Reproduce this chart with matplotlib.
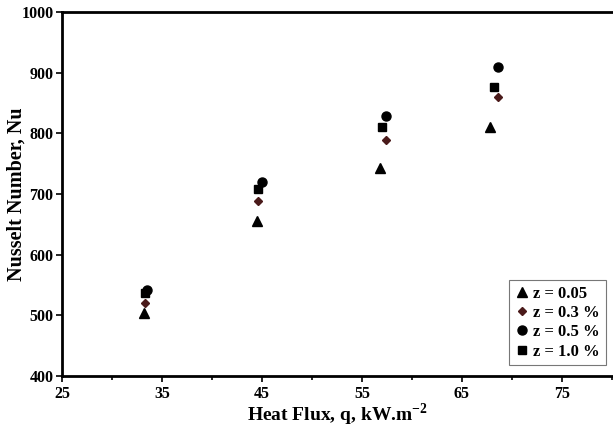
import matplotlib
matplotlib.use("Agg")
import matplotlib.pyplot as plt
from matplotlib.ticker import MultipleLocator

plt.rcParams["font.family"] = ["Liberation Serif", "DejaVu Serif"]
plt.rcParams["font.weight"] = "bold"
plt.rcParams["mathtext.fontset"] = "custom"
plt.rcParams["mathtext.rm"] = "Liberation Serif:bold"

# ---- data ----
q_z005 = [33.2, 44.5, 56.8, 67.8]
nu_z005 = [504, 655, 743, 811]

q_z03 = [33.3, 44.6, 57.4, 68.6]
nu_z03 = [521, 688, 789, 860]

q_z05 = [33.5, 45.0, 57.4, 68.6]
nu_z05 = [542, 720, 829, 909]

q_z10 = [33.3, 44.6, 57.0, 68.2]
nu_z10 = [537, 708, 811, 877]

x_ticks = [25, 35, 45, 55, 65, 75]
y_ticks = [400, 500, 600, 700, 800, 900, 1000]

fig = plt.figure(figsize=(6.13, 4.28), dpi=100)
ax = fig.add_axes([0.101, 0.1215, 0.899, 0.8505])

ax.plot(q_z005, nu_z005, ls="none", marker="^", ms=7, color="black", label="z = 0.05")
ax.plot(q_z03, nu_z03, ls="none", marker="D", ms=4.5, color="#4a1a1a", label="z = 0.3 %")
ax.plot(q_z05, nu_z05, ls="none", marker="o", ms=6.5, color="black", label="z = 0.5 %")
ax.plot(q_z10, nu_z10, ls="none", marker="s", ms=6, color="black", label="z = 1.0 %")

ax.set_xlim(25, 80.1)
ax.set_ylim(400, 1000)
ax.set_xticks(x_ticks)
ax.set_yticks(y_ticks)
ax.xaxis.set_minor_locator(MultipleLocator(5))

for s in ["left", "bottom", "top"]:
    ax.spines[s].set_linewidth(2)
ax.spines["right"].set_visible(False)
ax.tick_params(axis="both", which="both", direction="out", length=4, width=1.2, labelsize=11.5)
ax.tick_params(axis="x", which="minor", length=3)
ax.tick_params(axis="y", pad=2)
ax.tick_params(axis="x", pad=3)

ax.set_ylabel("Nusselt Number, Nu", fontsize=14.5, fontweight="bold")
ax.yaxis.set_label_coords(-0.064, 0.5)
ax.set_xlabel(r"Heat Flux, q, kW.m$^{-2}$", fontsize=14, fontweight="bold", labelpad=0)

leg = ax.legend(loc="lower right", bbox_to_anchor=(0.993, 0.02), fontsize=12,
                frameon=True, fancybox=False, handlelength=0.8, handletextpad=0.3,
                borderpad=0.35, labelspacing=0.2, borderaxespad=0.2)
leg.get_frame().set_edgecolor("#555555")
leg.get_frame().set_linewidth(0.8)

fig.savefig("out.png", dpi=100)
